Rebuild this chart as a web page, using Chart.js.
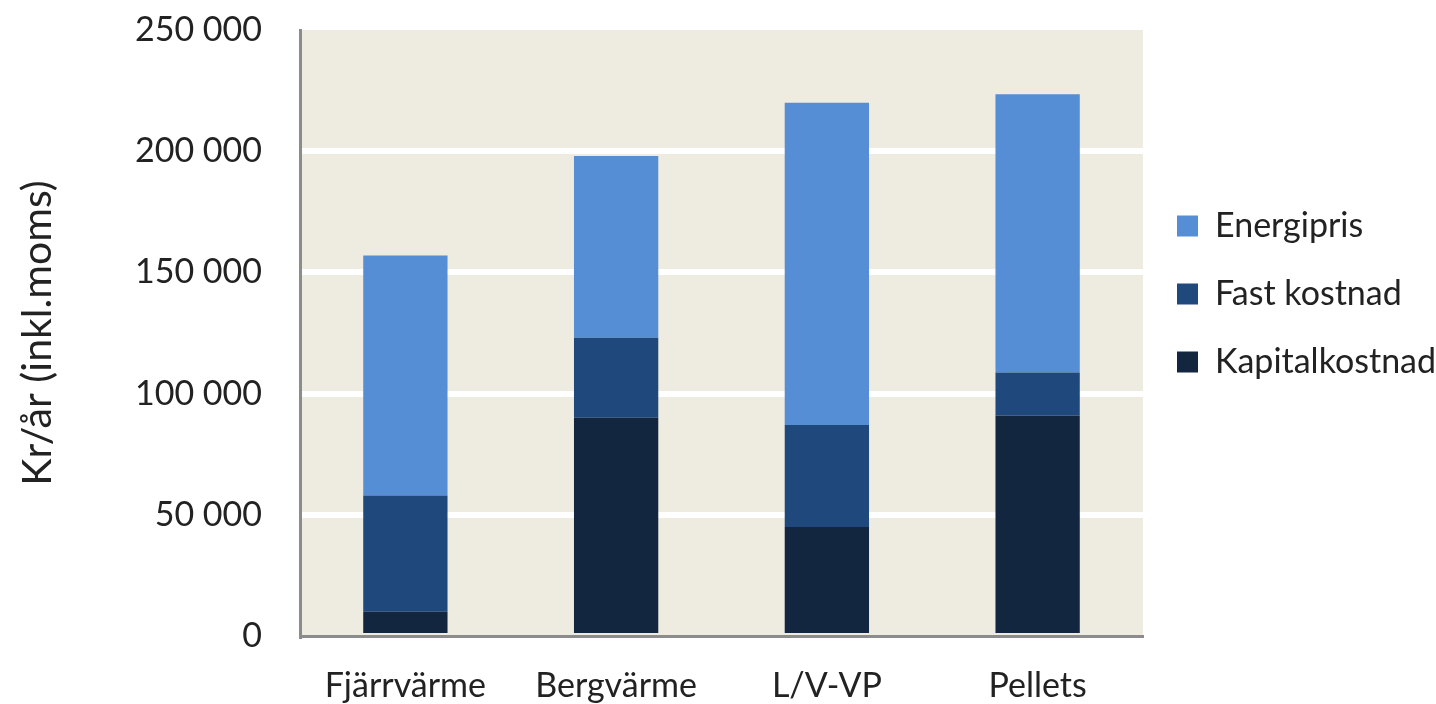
<!DOCTYPE html>
<html>
<head>
<meta charset="utf-8">
<script src="https://cdn.jsdelivr.net/npm/chart.js@4.4.1/dist/chart.umd.min.js"></script>
<style>
  html, body { margin: 0; padding: 0; background: #ffffff; }
  #wrap { width: 1436px; height: 704px; position: relative; }
</style>
</head>
<body>
<div id="wrap"><canvas id="c"></canvas></div>
<script>
const categories = ['Fjärrvärme', 'Bergvärme', 'L/V-VP', 'Pellets'];
const kapitalkostnad = [10000, 90000, 45000, 91000];
const fastKostnad = [48000, 33000, 42000, 17700];
const energipris = [99000, 75000, 133000, 114800];
const yTickValues = [0, 50000, 100000, 150000, 200000, 250000];
const yTickLabels = ['0', '50 000', '100 000', '150 000', '200 000', '250 000'];
const yTitle = 'Kr/år (inkl.moms)';

const FONT = 'Lato';
const TEXT = '#222222';
const AXIS = '#8c8c8c';

const plotBg = {
  id: 'plotBg',
  beforeDraw(chart) {
    const {ctx, chartArea: a} = chart;
    ctx.save();
    ctx.fillStyle = '#EEEBE0';
    ctx.fillRect(a.left, a.top, a.right - a.left, a.bottom - a.top);
    ctx.restore();
  }
};

new Chart(document.getElementById('c'), {
  type: 'bar',
  data: {
    labels: categories,
    datasets: [
      { label: 'Kapitalkostnad', data: kapitalkostnad, backgroundColor: '#132640' },
      { label: 'Fast kostnad', data: fastKostnad, backgroundColor: '#1F497D' },
      { label: 'Energipris', data: energipris, backgroundColor: '#558ED5' }
    ]
  },
  options: {
    responsive: true,
    maintainAspectRatio: false,
    animation: false,
    layout: { padding: { top: 30, left: 0, right: 0, bottom: 0 } },
    datasets: { bar: { categoryPercentage: 1.0, barPercentage: 0.4 } },
    plugins: {
      tooltip: { enabled: false },
      legend: {
        position: 'right',
        align: 'start',
        maxWidth: 293,
        reverse: true,
        title: { display: true, text: ' ', font: { size: 10, lineHeight: 1 }, padding: { top: 135, bottom: 0 } },
        labels: {
          boxWidth: 21,
          boxHeight: 21,
          padding: 34,
          color: TEXT,
          font: { family: FONT, size: 34 }
        }
      }
    },
    scales: {
      x: {
        stacked: true,
        grid: { display: false, drawTicks: false },
        border: { display: true, color: AXIS, width: 3 },
        ticks: { color: TEXT, font: { family: FONT, size: 34 }, padding: 30, maxRotation: 0 },
        afterFit(s) { s.height = 68; }
      },
      y: {
        stacked: true,
        min: 0,
        max: 250000,
        afterBuildTicks(s) { s.ticks = yTickValues.map(v => ({ value: v })); },
        grid: {
          drawTicks: true,
          tickLength: 30,
          tickColor: 'rgba(0,0,0,0)',
          lineWidth: 6,
          color: (c) => (c.tick && (c.tick.value === 0 || c.tick.value === 250000)) ? 'rgba(0,0,0,0)' : '#ffffff'
        },
        border: { display: true, color: AXIS, width: 3 },
        ticks: {
          color: TEXT,
          font: { family: FONT, size: 34 },
          padding: 8,
          callback: (v) => yTickLabels[yTickValues.indexOf(v)]
        },
        title: {
          display: true,
          text: yTitle,
          color: TEXT,
          font: { family: FONT, size: 41, lineHeight: 1.2 },
          padding: { top: 13, bottom: 0 }
        },
        afterFit(s) { s.width = 300; }
      }
    }
  },
  plugins: [plotBg]
});
</script>
</body>
</html>
